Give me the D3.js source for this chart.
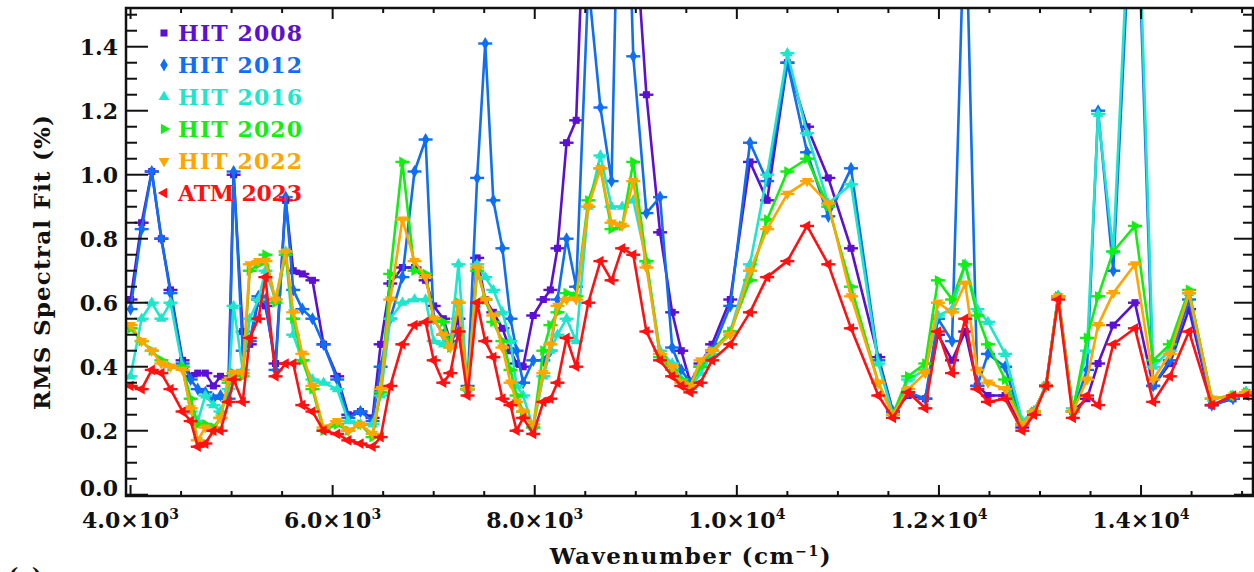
<!DOCTYPE html>
<html>
<head>
<meta charset="utf-8">
<script src="https://cdn.jsdelivr.net/npm/d3@7"></script>
<style>
  body { margin: 0; background: #fff; }
  text { font-family: "DejaVu Serif", serif; font-weight: bold; fill: #111; }
</style>
</head>
<body>
<div id="chart"></div>
<script>
// wavenumber grid (cm-1)
const wavenumber = [4000, 4110, 4210, 4305, 4395, 4515, 4595, 4665, 4740, 4820, 4890, 4970, 5020, 5110, 5180, 5265,
  5335, 5435, 5535, 5610, 5700, 5800, 5910, 6045, 6155, 6275, 6395, 6475, 6570, 6690, 6810, 6920,
  7000, 7095, 7165, 7245, 7335, 7430, 7510, 7590, 7680, 7760, 7820, 7885, 7985, 8085, 8155, 8225,
  8315, 8410, 8530, 8650, 8760, 8865, 8975, 9105, 9240, 9360, 9450, 9540, 9640, 9755, 9935, 10130,
  10300, 10500, 10695, 10905, 11130, 11400, 11545, 11695, 11865, 11990, 12130, 12260, 12380, 12485, 12655, 12825,
  12940, 13060, 13180, 13325, 13465, 13575, 13725, 13940, 14120, 14285, 14475, 14700, 14910, 15040];

// RMS spectral fit (%)
const hit2008 = [0.61, 0.85, 1.01, 0.80, 0.64, 0.42, 0.37, 0.38, 0.38, 0.34, 0.37, 0.36, 1.00, 0.51, 0.47, 0.61,
  0.59, 0.41, 0.92, 0.70, 0.69, 0.67, 0.47, 0.37, 0.25, 0.26, 0.24, 0.47, 0.66, 0.71, 0.71, 0.67,
  0.59, 0.55, 0.48, 0.55, 0.33, 0.74, 0.61, 0.57, 0.52, 0.45, 0.41, 0.40, 0.56, 0.61, 0.64, 0.77,
  1.10, 1.17, 2.20, 2.20, 1.90, 2.10, 1.85, 1.25, 0.82, 0.57, 0.45, 0.35, 0.41, 0.47, 0.61, 1.04,
  0.92, 1.35, 1.15, 0.99, 0.77, 0.43, 0.26, 0.31, 0.30, 0.50, 0.42, 0.51, 0.34, 0.31, 0.31, 0.21,
  0.26, 0.34, 0.62, 0.26, 0.30, 0.41, 0.53, 0.60, 0.34, 0.41, 0.58, 0.28, 0.30, 0.32];

const hit2012 = [0.58, 0.83, 1.01, 0.80, 0.63, 0.41, 0.36, 0.33, 0.32, 0.30, 0.31, 0.30, 1.01, 0.45, 0.48, 0.62,
  0.61, 0.39, 0.93, 0.64, 0.58, 0.55, 0.47, 0.36, 0.24, 0.26, 0.23, 0.40, 0.55, 0.68, 1.01, 1.11,
  0.55, 0.50, 0.48, 0.51, 0.34, 0.99, 1.41, 0.92, 0.77, 0.55, 0.45, 0.35, 0.42, 0.42, 0.45, 0.61,
  0.80, 0.65, 1.60, 1.21, 0.98, 2.50, 1.37, 0.88, 0.93, 0.46, 0.39, 0.35, 0.40, 0.45, 0.59, 1.10,
  0.98, 1.35, 1.07, 0.87, 1.02, 0.42, 0.26, 0.32, 0.30, 0.55, 0.48, 1.90, 0.34, 0.44, 0.40, 0.22,
  0.26, 0.34, 0.62, 0.26, 0.39, 1.20, 0.70, 2.10, 0.34, 0.42, 0.61, 0.28, 0.30, 0.32];

const hit2016 = [0.37, 0.55, 0.60, 0.55, 0.60, 0.40, 0.26, 0.23, 0.31, 0.28, 0.26, 0.33, 0.59, 0.39, 0.55, 0.61,
  0.70, 0.61, 0.76, 0.50, 0.42, 0.36, 0.35, 0.33, 0.23, 0.22, 0.22, 0.31, 0.55, 0.60, 0.61, 0.61,
  0.48, 0.47, 0.47, 0.72, 0.33, 0.72, 0.68, 0.64, 0.57, 0.48, 0.34, 0.31, 0.21, 0.37, 0.45, 0.50,
  0.55, 0.48, 0.90, 1.06, 0.90, 0.90, 0.92, 0.73, 0.45, 0.41, 0.36, 0.33, 0.38, 0.44, 0.51, 0.72,
  1.00, 1.38, 1.13, 0.91, 0.97, 0.41, 0.25, 0.36, 0.39, 0.56, 0.58, 0.72, 0.58, 0.54, 0.44, 0.23,
  0.26, 0.34, 0.62, 0.27, 0.45, 1.19, 0.76, 2.20, 0.40, 0.45, 0.63, 0.30, 0.31, 0.32];

const hit2020 = [0.52, 0.48, 0.45, 0.42, 0.40, 0.40, 0.30, 0.22, 0.22, 0.21, 0.24, 0.35, 0.38, 0.37, 0.70, 0.72,
  0.75, 0.60, 0.75, 0.55, 0.42, 0.33, 0.20, 0.22, 0.20, 0.22, 0.18, 0.32, 0.69, 1.04, 0.70, 0.69,
  0.55, 0.54, 0.46, 0.60, 0.33, 0.70, 0.61, 0.54, 0.48, 0.39, 0.31, 0.26, 0.21, 0.45, 0.53, 0.57,
  0.63, 0.62, 0.92, 1.02, 0.83, 0.84, 1.04, 0.73, 0.43, 0.39, 0.36, 0.34, 0.40, 0.45, 0.51, 0.67,
  0.86, 1.01, 1.05, 0.90, 0.65, 0.35, 0.25, 0.37, 0.41, 0.67, 0.61, 0.72, 0.56, 0.47, 0.36, 0.22,
  0.26, 0.34, 0.62, 0.26, 0.49, 0.62, 0.76, 0.84, 0.42, 0.47, 0.64, 0.30, 0.31, 0.32];

const hit2022 = [0.53, 0.48, 0.45, 0.41, 0.40, 0.39, 0.27, 0.17, 0.21, 0.20, 0.24, 0.36, 0.38, 0.38, 0.72, 0.73,
  0.73, 0.61, 0.76, 0.57, 0.44, 0.34, 0.21, 0.23, 0.20, 0.22, 0.19, 0.33, 0.61, 0.86, 0.73, 0.68,
  0.55, 0.50, 0.46, 0.60, 0.33, 0.71, 0.61, 0.56, 0.46, 0.35, 0.29, 0.26, 0.22, 0.38, 0.47, 0.59,
  0.61, 0.61, 0.90, 1.02, 0.85, 0.84, 0.98, 0.71, 0.44, 0.40, 0.35, 0.34, 0.42, 0.45, 0.50, 0.70,
  0.83, 0.94, 0.98, 0.91, 0.62, 0.35, 0.25, 0.33, 0.38, 0.60, 0.57, 0.66, 0.39, 0.35, 0.33, 0.22,
  0.26, 0.34, 0.62, 0.26, 0.36, 0.53, 0.63, 0.72, 0.36, 0.44, 0.63, 0.30, 0.31, 0.32];

const atm2023 = [0.34, 0.33, 0.39, 0.38, 0.33, 0.26, 0.23, 0.15, 0.16, 0.20, 0.20, 0.29, 0.36, 0.29, 0.49, 0.55,
  0.68, 0.37, 0.41, 0.41, 0.28, 0.26, 0.20, 0.19, 0.17, 0.16, 0.15, 0.18, 0.34, 0.47, 0.53, 0.54,
  0.42, 0.35, 0.38, 0.51, 0.31, 0.60, 0.48, 0.43, 0.30, 0.28, 0.20, 0.24, 0.19, 0.29, 0.30, 0.35,
  0.49, 0.40, 0.60, 0.73, 0.67, 0.77, 0.75, 0.51, 0.42, 0.37, 0.34, 0.32, 0.35, 0.42, 0.47, 0.57,
  0.68, 0.73, 0.84, 0.72, 0.52, 0.31, 0.24, 0.32, 0.27, 0.51, 0.38, 0.55, 0.33, 0.29, 0.30, 0.20,
  0.25, 0.34, 0.61, 0.24, 0.31, 0.28, 0.47, 0.52, 0.29, 0.37, 0.51, 0.28, 0.31, 0.31];

const seriesNames = ["HIT 2008", "HIT 2012", "HIT 2016", "HIT 2020", "HIT 2022", "ATM 2023"];
const xTicks = [4000, 6000, 8000, 10000, 12000, 14000];
const yTicks = [0.0, 0.2, 0.4, 0.6, 0.8, 1.0, 1.2, 1.4];

const colors = ["#5c10d2", "#0f6ef2", "#1ee6cc", "#12ee12", "#ffa500", "#ff1111"];
const symbolTypes = [d3.symbolSquare, d3.symbolDiamond, d3.symbolTriangle, d3.symbolTriangle, d3.symbolTriangle, d3.symbolTriangle];
const symbolRot = [0, 0, 0, 90, 180, -90];

const series = [hit2008, hit2012, hit2016, hit2020, hit2022, atm2023].map((vals, i) => ({
  name: seriesNames[i],
  color: colors[i],
  values: vals.map((v, j) => ({ x: wavenumber[j], y: v }))
}));

const margin = { top: 8, right: 1, bottom: 76, left: 126 };
const width = 1254 - margin.left - margin.right;
const height = 572 - margin.top - margin.bottom;

const svg = d3.select("#chart").append("svg")
  .attr("width", 1254)
  .attr("height", 572);

const g = svg.append("g")
  .attr("transform", `translate(${margin.left},${margin.top})`);

const x = d3.scaleLinear().domain([3955, 15108]).range([0, width]);
const y = d3.scaleLinear().domain([-0.004, 1.521]).range([height, 0]);

g.append("clipPath").attr("id", "clip")
  .append("rect").attr("width", width).attr("height", height);

const plot = g.append("g").attr("clip-path", "url(#clip)");

const line = d3.line().x(d => x(d.x)).y(d => y(d.y));

series.forEach((s, i) => {
  const sg = plot.append("g");
  sg.append("path")
    .datum(s.values)
    .attr("fill", "none")
    .attr("stroke", s.color)
    .attr("stroke-width", 2.6)
    .attr("stroke-linejoin", "round")
    .attr("d", line);

  const pts = sg.selectAll("g.pt").data(s.values).enter().append("g")
    .attr("transform", d => `translate(${x(d.x)},${y(d.y)})`);
  pts.append("line")
    .attr("x1", -7).attr("x2", 7)
    .attr("stroke", s.color).attr("stroke-width", 2.4);
  pts.append("path")
    .attr("d", d3.symbol().type(symbolTypes[i]).size(50))
    .attr("transform", `rotate(${symbolRot[i]})`)
    .attr("fill", s.color);
});

// frame
g.append("rect")
  .attr("width", width).attr("height", height)
  .attr("fill", "none").attr("stroke", "#111").attr("stroke-width", 2.5);

// x ticks (bottom + top, inward)
const xMinor = d3.range(4000, 15001, 500);
xMinor.forEach(v => {
  const major = v % 2000 === 0;
  const len = major ? 11 : 5;
  g.append("line").attr("x1", x(v)).attr("x2", x(v))
    .attr("y1", height).attr("y2", height - len)
    .attr("stroke", "#111").attr("stroke-width", 2);
  g.append("line").attr("x1", x(v)).attr("x2", x(v))
    .attr("y1", 0).attr("y2", len)
    .attr("stroke", "#111").attr("stroke-width", 2);
});

// y ticks (left + right, inward)
const yMinor = d3.range(0, 31).map(k => k * 0.05);
yMinor.forEach((v, k) => {
  const major = k % 4 === 0;
  g.append("line").attr("x1", 0).attr("x2", major ? 22 : 11)
    .attr("y1", y(v)).attr("y2", y(v))
    .attr("stroke", "#111").attr("stroke-width", 2);
  g.append("line").attr("x1", width).attr("x2", width - (major ? 19 : 10))
    .attr("y1", y(v)).attr("y2", y(v))
    .attr("stroke", "#111").attr("stroke-width", 2);
});

// tick labels
xTicks.forEach(v => {
  const exp = Math.floor(Math.log10(v));
  const mant = (v / Math.pow(10, exp)).toFixed(1);
  const t = g.append("text")
    .attr("x", x(v)).attr("y", height + 32)
    .attr("text-anchor", "middle")
    .style("font-size", "22px");
  t.append("tspan").text(mant + "\u00d710");
  t.append("tspan").attr("dy", -9).style("font-size", "14px").text(exp);
});

yTicks.forEach(v => {
  g.append("text")
    .attr("x", -8).attr("y", y(v) + 8 - (v === 0 ? 7 : 0))
    .attr("text-anchor", "end")
    .style("font-size", "22px")
    .text(v.toFixed(1));
});

// axis titles
const xt = g.append("text")
  .attr("x", 565).attr("y", height + 68)
  .attr("text-anchor", "middle")
  .style("font-size", "23px")
  .style("letter-spacing", "1.5px");
xt.append("tspan").text("Wavenumber (cm");
xt.append("tspan").attr("dy", -8).style("font-size", "14px").text("\u22121");
xt.append("tspan").attr("dy", 8).text(")");

svg.append("text")
  .attr("transform", "translate(50,262) rotate(-90)")
  .attr("text-anchor", "middle")
  .style("font-size", "23px")
  .style("letter-spacing", "1.2px")
  .text("RMS Spectral Fit (%)");

// legend
const legend = svg.append("g");
series.forEach((s, i) => {
  const ly = 33 + i * 32;
  legend.append("path")
    .attr("d", d3.symbol().type(symbolTypes[i]).size(50))
    .attr("transform", `translate(164,${ly}) rotate(${symbolRot[i]})`)
    .attr("fill", s.color);
  legend.append("text")
    .attr("x", 178).attr("y", ly + 8)
    .attr("textLength", 124)
    .attr("lengthAdjust", "spacing")
    .style("font-size", "22px")
    .style("fill", s.color)
    .text(s.name);
});

// panel label, cut off at the bottom edge as in the source figure
svg.append("text")
  .attr("x", 8).attr("y", 584)
  .style("font-size", "22px")
  .text("(c)");
</script>
</body>
</html>
